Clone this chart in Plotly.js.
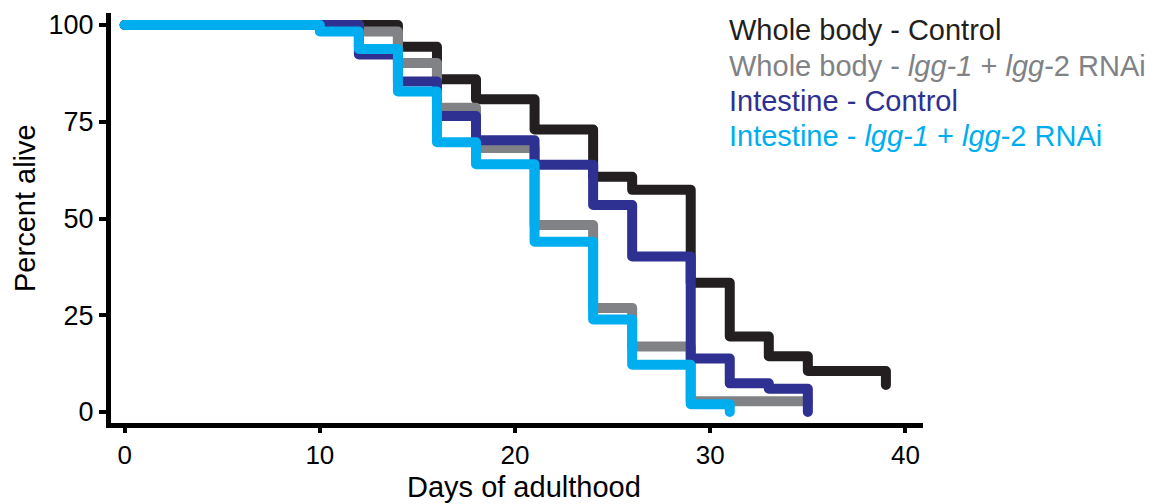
<!DOCTYPE html>
<html>
<head>
<meta charset="utf-8">
<script src="https://cdn.plot.ly/plotly-3.0.1.min.js"></script>
<style>
  html, body { margin: 0; padding: 0; background: #fff; }
  #chart { width: 1160px; height: 504px; }
  .js-line { stroke-linejoin: round !important; stroke-linecap: round !important; }
</style>
</head>
<body>
<div id="chart"></div>
<script>
// Series (drawn bottom -> top)
const seriesNames = [
  "Whole body - Control",
  "Whole body - <i>lgg-1</i> + <i>lgg</i>-2 RNAi",
  "Intestine - Control",
  "Intestine - <i>lgg-1</i> + <i>lgg</i>-2 RNAi"
];
const seriesColors = ["#231f20", "#808285", "#2e3192", "#00aeef"];

const daysWholeControl = [0, 14, 16, 18, 21, 24, 26, 29, 31, 33, 35, 39];
const pctWholeControl  = [100, 94.4, 86, 80.8, 73.0, 60.8, 57.4, 33.4, 19.5, 14.4, 10.6, 7];

const daysWholeRNAi = [0, 12, 14, 16, 18, 21, 24, 26, 29, 35];
const pctWholeRNAi  = [100, 98.3, 90.2, 78.6, 68.2, 48.3, 26.9, 16.9, 2.8, 2.8];

const daysIntControl = [0, 12, 14, 16, 18, 21, 24, 26, 29, 31, 33, 35];
const pctIntControl  = [100, 92.4, 85.4, 76.5, 70.2, 63.9, 53.5, 40.2, 13.8, 7.4, 6.0, 0];

const daysIntRNAi = [0, 10, 12, 14, 16, 18, 21, 24, 26, 29, 31];
const pctIntRNAi  = [100, 98.3, 93.8, 82.8, 69.7, 64.0, 44.0, 23.9, 12.2, 2.0, 0];

const xTicks = [0, 10, 20, 30, 40];
const yTicks = [0, 25, 50, 75, 100];

const allDays = [daysWholeControl, daysWholeRNAi, daysIntControl, daysIntRNAi];
const allPct  = [pctWholeControl, pctWholeRNAi, pctIntControl, pctIntRNAi];

const FONT = "Liberation Sans, Arial, Helvetica, sans-serif";

const traces = allDays.map((d, i) => ({
  x: d,
  y: allPct[i],
  type: "scatter",
  mode: "lines",
  line: { shape: "hv", width: 10, color: seriesColors[i] },
  name: seriesNames[i],
  showlegend: false,
  hoverinfo: "skip"
}));

const plotLeft = 111, plotRight = 923, plotTop = 13, plotBottom = 423;
const W = plotRight - plotLeft, H = plotBottom - plotTop;
const legendY = [30, 66, 101, 136]; // pixel centres of legend lines
const annotations = seriesNames.map((n, i) => ({
  text: n,
  xref: "paper", yref: "paper",
  x: (727 - plotLeft) / W,
  y: (plotBottom - legendY[i]) / H,
  xanchor: "left", yanchor: "middle",
  showarrow: false,
  font: { family: FONT, size: 29, color: seriesColors[i] }
}));
annotations.push({
  text: "Percent alive",
  xref: "paper", yref: "paper",
  x: (25 - plotLeft) / W,
  y: (plotBottom - 208) / H,
  xanchor: "center", yanchor: "middle",
  textangle: -90,
  showarrow: false,
  font: { family: FONT, size: 29, color: "#000" }
});
annotations.push({
  text: "Days of adulthood",
  xref: "paper", yref: "paper",
  x: (524 - plotLeft) / W,
  y: (plotBottom - 487) / H,
  xanchor: "center", yanchor: "middle",
  showarrow: false,
  font: { family: FONT, size: 29, color: "#000" }
});

const layout = {
  width: 1160, height: 504,
  margin: { l: plotLeft, r: 1160 - plotRight, t: plotTop, b: 504 - plotBottom },
  paper_bgcolor: "#fff", plot_bgcolor: "#fff",
  showlegend: false,
  font: { family: FONT, size: 26, color: "#000" },
  xaxis: {
    range: [-0.7, 40.9],
    tickvals: xTicks,
    ticktext: xTicks.map(String),
    showgrid: false, zeroline: false,
    showline: true, linecolor: "#000", linewidth: 5,
    ticks: "outside", ticklen: 5, tickwidth: 4, tickcolor: "#000",
    tickfont: { family: FONT, size: 26, color: "#000" }
  },
  yaxis: {
    range: [-2.84, 103.1],
    tickvals: yTicks,
    ticktext: yTicks.map(String),
    showgrid: false, zeroline: false,
    showline: true, linecolor: "#000", linewidth: 5,
    ticks: "outside", ticklen: 7, tickwidth: 4, tickcolor: "#000",
    tickfont: { family: FONT, size: 27, color: "#000" }
  },
  annotations: annotations
};

Plotly.newPlot("chart", traces, layout, { staticPlot: true, displayModeBar: false });
</script>
</body>
</html>
